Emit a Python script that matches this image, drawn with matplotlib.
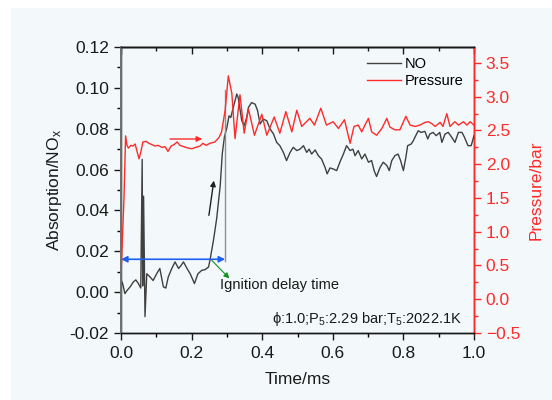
import matplotlib
matplotlib.use("Agg")
import matplotlib.pyplot as plt
from matplotlib.patches import Rectangle

plt.rcParams['font.family'] = ['Liberation Sans', 'DejaVu Sans']
plt.rcParams['mathtext.fontset'] = 'custom'
plt.rcParams['mathtext.rm'] = 'Liberation Sans'
plt.rcParams['mathtext.it'] = 'Liberation Sans:italic'

# NO absorption signal (time in ms)
no_time = [0.000, 0.005, 0.011, 0.018, 0.026, 0.035, 0.042, 0.049, 0.056, 0.060,
           0.0615, 0.064, 0.068, 0.073, 0.082, 0.091, 0.101, 0.110, 0.120, 0.127,
           0.134, 0.144, 0.153, 0.163, 0.170, 0.177, 0.187, 0.196, 0.208, 0.218,
           0.229, 0.238, 0.248, 0.252, 0.262, 0.271, 0.281, 0.287, 0.293, 0.300,
           0.306, 0.311, 0.318, 0.328, 0.332, 0.342, 0.349, 0.356, 0.361, 0.370,
           0.380, 0.387, 0.394, 0.403, 0.413, 0.422, 0.432, 0.441, 0.450, 0.460,
           0.469, 0.479, 0.488, 0.498, 0.507, 0.517, 0.526, 0.533, 0.540, 0.550,
           0.559, 0.568, 0.578, 0.584, 0.592, 0.601, 0.611, 0.620, 0.630, 0.639,
           0.649, 0.657, 0.663, 0.672, 0.682, 0.691, 0.701, 0.710, 0.717, 0.724,
           0.734, 0.743, 0.753, 0.760, 0.767, 0.776, 0.785, 0.792, 0.800,
           0.807, 0.812, 0.822, 0.828, 0.835, 0.842, 0.850, 0.861, 0.869, 0.875,
           0.884, 0.893, 0.903, 0.909, 0.918, 0.927, 0.937, 0.946, 0.956, 0.966,
           0.973, 0.983, 0.992, 1.000]
no_value = [0.0060, 0.0040, -0.0007, 0.0010, 0.0026, 0.0050, 0.0060, 0.0043, 0.0020, 0.0650,
            0.0030, 0.0470, -0.0120, 0.0090, 0.0075, 0.0057, 0.0090, 0.0116, 0.0026, 0.0020,
            0.0075, 0.0116, 0.0148, 0.0116, 0.0130, 0.0148, 0.0116, 0.0090, 0.0042, 0.0090,
            0.0107, 0.0110, 0.0123, 0.0156, 0.0254, 0.0360, 0.0520, 0.0680, 0.0760, 0.0806,
            0.0863, 0.0855, 0.0904, 0.0970, 0.0953, 0.0840, 0.0815, 0.0855, 0.0904, 0.0928,
            0.0920, 0.0888, 0.0823, 0.0847, 0.0839, 0.0800, 0.0774, 0.0733, 0.0717, 0.0684,
            0.0644, 0.0684, 0.0709, 0.0693, 0.0700, 0.0717, 0.0684, 0.0700, 0.0676, 0.0696,
            0.0668, 0.0652, 0.0611, 0.0579, 0.0608, 0.0603, 0.0595, 0.0636, 0.0676, 0.0717,
            0.0693, 0.0700, 0.0668, 0.0693, 0.0652, 0.0676, 0.0636, 0.0644, 0.0595, 0.0566,
            0.0611, 0.0636, 0.0620, 0.0595, 0.0644, 0.0668, 0.0676, 0.0644, 0.0595,
            0.0660, 0.0717, 0.0725, 0.0741, 0.0766, 0.0790, 0.0782, 0.0787, 0.0750, 0.0774,
            0.0782, 0.0766, 0.0782, 0.0733, 0.0774, 0.0782, 0.0758, 0.0733, 0.0782, 0.0782,
            0.0758, 0.0717, 0.0717, 0.0766]

# Pressure trace (bar)
p_time = [0.000, 0.0085, 0.013, 0.017, 0.021, 0.028, 0.034, 0.040, 0.045, 0.051,
          0.057, 0.062, 0.071, 0.079, 0.088, 0.096, 0.105, 0.116, 0.125, 0.133,
          0.142, 0.150, 0.159, 0.167, 0.178, 0.190, 0.201, 0.212, 0.224, 0.232,
          0.241, 0.252, 0.266, 0.278, 0.285, 0.295, 0.304, 0.314, 0.323, 0.332,
          0.337, 0.349, 0.361, 0.378, 0.399, 0.413, 0.434, 0.450, 0.467, 0.484,
          0.498, 0.512, 0.535, 0.548, 0.566, 0.582, 0.601, 0.616, 0.633, 0.649,
          0.660, 0.672, 0.682, 0.691, 0.701, 0.710,
          0.724, 0.739, 0.753, 0.762, 0.776, 0.790, 0.807, 0.819, 0.833, 0.847,
          0.861, 0.871, 0.881, 0.890, 0.904, 0.912, 0.923, 0.932, 0.946, 0.956,
          0.970, 0.980, 0.989, 1.000]
p_value = [0.35, 1.50, 2.42, 2.28, 2.24, 2.28, 2.27, 2.30, 2.20, 2.08,
           2.20, 2.33, 2.34, 2.31, 2.29, 2.27, 2.28, 2.25, 2.26, 2.19,
           2.27, 2.29, 2.33, 2.28, 2.26, 2.24, 2.23, 2.25, 2.27, 2.31,
           2.28, 2.31, 2.33, 2.40, 2.48, 2.80, 3.31, 3.05, 2.38, 2.80,
           3.03, 2.46, 2.82, 2.43, 2.74, 2.43, 2.70, 2.46, 2.78, 2.48,
           2.80, 2.56, 2.68, 2.58, 2.83, 2.58, 2.63, 2.53, 2.66, 2.31,
           2.56, 2.58, 2.48, 2.58, 2.68, 2.48,
           2.43, 2.53, 2.68, 2.55, 2.51, 2.51, 2.71, 2.58, 2.56, 2.58,
           2.62, 2.63, 2.60, 2.56, 2.62, 2.56, 2.75, 2.56, 2.63, 2.58,
           2.63, 2.58, 2.63, 2.58]

# Ignition delay markers
ignition_time = 0.295
marker_level = 0.0161
info_text = r"ϕ:1.0;P$\mathregular{_5}$:2.29 bar;T$\mathregular{_5}$:2022.1K"

fig = plt.figure(figsize=(5.52, 4.0), dpi=100, facecolor='white')
fig.patches.append(Rectangle((11 / 552, 0), 1, 392 / 400, transform=fig.transFigure,
                             facecolor='#f3f9fa', edgecolor='none', zorder=-10))

ax = fig.add_axes([121 / 552, 67 / 400, 353 / 552, 286 / 400])
ax.set_facecolor('none')
ax2 = ax.twinx()

no_line, = ax.plot(no_time, no_value, color='#404040', lw=1.0, label='NO',
                   solid_joinstyle='round')
p_line, = ax2.plot(p_time, p_value, color='#ff2a2a', lw=1.0, label='Pressure',
                   solid_joinstyle='round')

ax.set_xlim(0, 1.0)
ax.set_ylim(-0.02, 0.12)
ax2.set_ylim(-0.5, 3.737)

# annotations on the NO axis
ax.plot([ignition_time, ignition_time], [0.015, 0.099], color='#909090', lw=1.0)
ax.annotate('', xy=(0.0, marker_level), xytext=(ignition_time, marker_level),
            arrowprops=dict(arrowstyle='<|-|>', color='#2060f0', lw=1.2,
                            mutation_scale=9, shrinkA=0, shrinkB=0))
ax.annotate('', xy=(0.307, 0.0067), xytext=(0.257, 0.0156),
            arrowprops=dict(arrowstyle='-|>', color='#109020', lw=0.8,
                            mutation_scale=8, shrinkA=0, shrinkB=0))
ax.annotate('', xy=(0.263, 0.0546), xytext=(0.249, 0.0376),
            arrowprops=dict(arrowstyle='-|>', color='#202020', lw=1.0,
                            mutation_scale=8, shrinkA=0, shrinkB=0))
ax2.annotate('', xy=(0.230, 2.374), xytext=(0.139, 2.374),
             arrowprops=dict(arrowstyle='-|>', color='#ff2a2a', lw=1.0,
                             mutation_scale=8, shrinkA=0, shrinkB=0))

ax.text(0.28, 0.0037, 'Ignition delay time', fontsize=10.5, va='center', ha='left',
        color='#1a1a1a')
ax.text(0.965, -0.0132, info_text, fontsize=10.5, va='center', ha='right',
        color='#1a1a1a')

# ticks and spines
major_x = [0.0, 0.2, 0.4, 0.6, 0.8, 1.0]
minor_x = [0.1, 0.3, 0.5, 0.7, 0.9]
ax.set_xticks(major_x)
ax.set_xticks(minor_x, minor=True)
ax.set_yticks([-0.02, 0.0, 0.02, 0.04, 0.06, 0.08, 0.10, 0.12])
ax.set_yticks([-0.01, 0.01, 0.03, 0.05, 0.07, 0.09, 0.11], minor=True)
ax.set_xticklabels(['0.0', '0.2', '0.4', '0.6', '0.8', '1.0'])
ax.set_yticklabels(['-0.02', '0.00', '0.02', '0.04', '0.06', '0.08', '0.10', '0.12'])
ax2.set_yticks([-0.5, 0.0, 0.5, 1.0, 1.5, 2.0, 2.5, 3.0, 3.5])
ax2.set_yticks([-0.25, 0.25, 0.75, 1.25, 1.75, 2.25, 2.75, 3.25], minor=True)

ax.tick_params(axis='both', which='major', labelsize=12.5, length=5, width=1,
               direction='out', colors='#1a1a1a')
ax.tick_params(axis='both', which='minor', length=3, width=1, direction='out')
ax.tick_params(axis='x', which='both', pad=4)
ax2.tick_params(axis='y', which='major', labelsize=12.5, length=5, width=1,
                direction='out', colors='#ff2a2a')
ax2.tick_params(axis='y', which='minor', length=3, width=1, direction='out',
                colors='#ff2a2a')

# top frame carries inward ticks without labels
top = ax.secondary_xaxis('top')
top.set_xticks(major_x)
top.set_xticks(minor_x, minor=True)
top.tick_params(axis='x', which='major', direction='in', length=5, width=1,
                labeltop=False, colors='#1a1a1a')
top.tick_params(axis='x', which='minor', direction='in', length=3, width=1,
                colors='#1a1a1a')
top.spines['top'].set_linewidth(1.0)
top.spines['top'].set_color('#1a1a1a')

for a in (ax, ax2):
    for s in a.spines.values():
        s.set_linewidth(1.0)
ax2.spines['right'].set_color('#ff2a2a')
ax2.spines['left'].set_color('#707070')
ax2.spines['left'].set_linewidth(1.4)
ax2.spines['top'].set_color('#1a1a1a')
ax2.spines['bottom'].set_color('#1a1a1a')

ax.set_xlabel('Time/ms', fontsize=12.5, labelpad=8, color='#1a1a1a')
ax.set_ylabel(r'Absorption/NO$\mathregular{_x}$', fontsize=12.5, labelpad=4,
              color='#1a1a1a')
ax2.set_ylabel('Pressure/bar', fontsize=12.5, labelpad=6, color='#ff2a2a')

leg = ax.legend(handles=[no_line, p_line], loc='upper right',
                bbox_to_anchor=(1.0, 1.0), frameon=False, fontsize=10.5,
                handlelength=2.3, handletextpad=0.3, labelspacing=0.2,
                borderaxespad=0.3)

fig.savefig('out.png', dpi=100, facecolor=fig.get_facecolor())
